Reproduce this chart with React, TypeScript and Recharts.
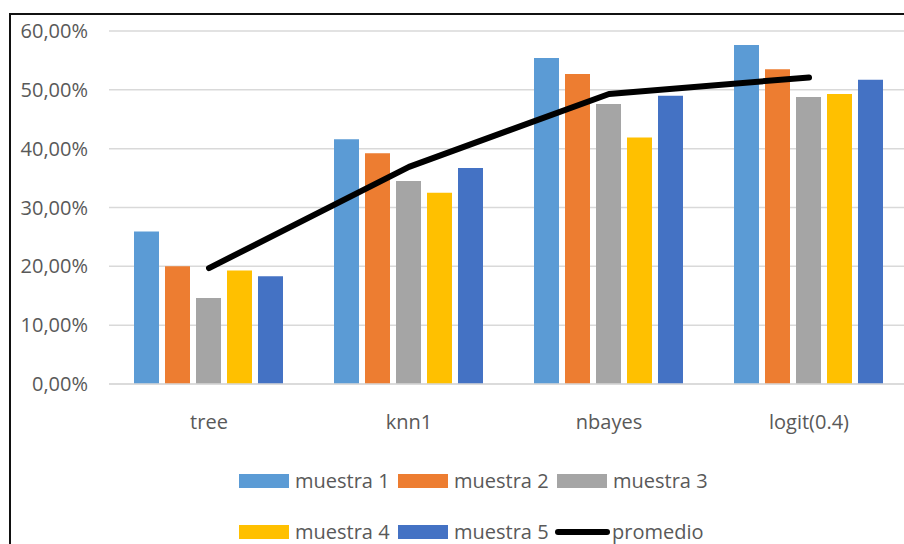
import React from 'react';
import { ComposedChart, Bar, Line, XAxis, YAxis, CartesianGrid } from 'recharts';

const categories = ['tree', 'knn1', 'nbayes', 'logit(0.4)'];
const muestra1 = [0.259, 0.416, 0.554, 0.576];
const muestra2 = [0.2, 0.392, 0.527, 0.535];
const muestra3 = [0.146, 0.345, 0.476, 0.488];
const muestra4 = [0.193, 0.325, 0.419, 0.493];
const muestra5 = [0.183, 0.367, 0.49, 0.517];
const promedio = [0.197, 0.369, 0.493, 0.521];
const yTicks = [0, 0.1, 0.2, 0.3, 0.4, 0.5, 0.6];

const barSeries = [
  { key: 'm1', name: 'muestra 1', color: '#5B9BD5', values: muestra1 },
  { key: 'm2', name: 'muestra 2', color: '#ED7D31', values: muestra2 },
  { key: 'm3', name: 'muestra 3', color: '#A5A5A5', values: muestra3 },
  { key: 'm4', name: 'muestra 4', color: '#FFC000', values: muestra4 },
  { key: 'm5', name: 'muestra 5', color: '#4472C4', values: muestra5 },
];

const data = categories.map((name, i) => {
  const row: Record<string, string | number> = { name, promedio: promedio[i] };
  barSeries.forEach(s => {
    row[s.key] = s.values[i];
  });
  return row;
});

const FONT = '"Open Sans", "Noto Sans", sans-serif';
const TEXT = '#595959';

const pct = (v: number) => (v * 100).toFixed(2).replace('.', ',') + '%';

const legendItems = [
  ...barSeries.map(s => ({ name: s.name, color: s.color, line: false })),
  { name: 'promedio', color: '#000000', line: true },
];

const LegendBlock = () => (
  <div style={{ position: 'absolute', left: 239, top: 455, width: 480, display: 'flex', flexWrap: 'wrap', fontFamily: FONT, fontSize: 20, color: TEXT }}>
    {legendItems.map(item => (
      <div key={item.name} style={{ width: 159, height: 51, display: 'flex', alignItems: 'center' }}>
        {item.line ? (
          <span style={{ display: 'inline-block', width: 55, height: 6, borderRadius: 3, background: item.color, marginLeft: -2, marginRight: 2 }} />
        ) : (
          <span style={{ display: 'inline-block', width: 50, height: 14, background: item.color, marginRight: 6 }} />
        )}
        <span style={{ lineHeight: '20px' }}>{item.name}</span>
      </div>
    ))}
  </div>
);

export default function App() {
  return (
    <div style={{ position: 'fixed', left: 0, top: 0, width: 904, height: 544, overflow: 'hidden', background: '#fff' }}>
      <div style={{ position: 'absolute', left: 9, top: 13, width: 1000, height: 600, borderLeft: '2px solid #111', borderTop: '2px solid #111' }} />
      <div style={{ position: 'absolute', left: 0, top: 0 }}>
        <ComposedChart
          width={920}
          height={544}
          data={data}
          margin={{ top: 31, right: 11, left: 9, bottom: 130 }}
          barCategoryGap={25}
          barGap={6}
        >
          <CartesianGrid vertical={false} stroke="#d9d9d9" strokeWidth={1.5} />
          <XAxis
            dataKey="name"
            height={30}
            axisLine={{ stroke: '#d9d9d9', strokeWidth: 1.5 }}
            tickLine={false}
            tickMargin={25}
            tick={{ fontFamily: FONT, fontSize: 20, fill: TEXT }}
          />
          <YAxis
            width={100}
            domain={[0, 0.6]}
            ticks={yTicks}
            tickFormatter={pct}
            axisLine={false}
            tickLine={false}
            tickMargin={15}
            tick={{ fontFamily: FONT, fontSize: 20, fill: TEXT }}
          />
          {barSeries.map(s => (
            <Bar key={s.key} dataKey={s.key} name={s.name} fill={s.color} isAnimationActive={false} />
          ))}
          <Line
            type="linear"
            dataKey="promedio"
            name="promedio"
            stroke="#000"
            strokeWidth={6}
            strokeLinecap="round"
            strokeLinejoin="round"
            dot={false}
            activeDot={false}
            isAnimationActive={false}
          />
        </ComposedChart>
      </div>
      <LegendBlock />
    </div>
  );
}
